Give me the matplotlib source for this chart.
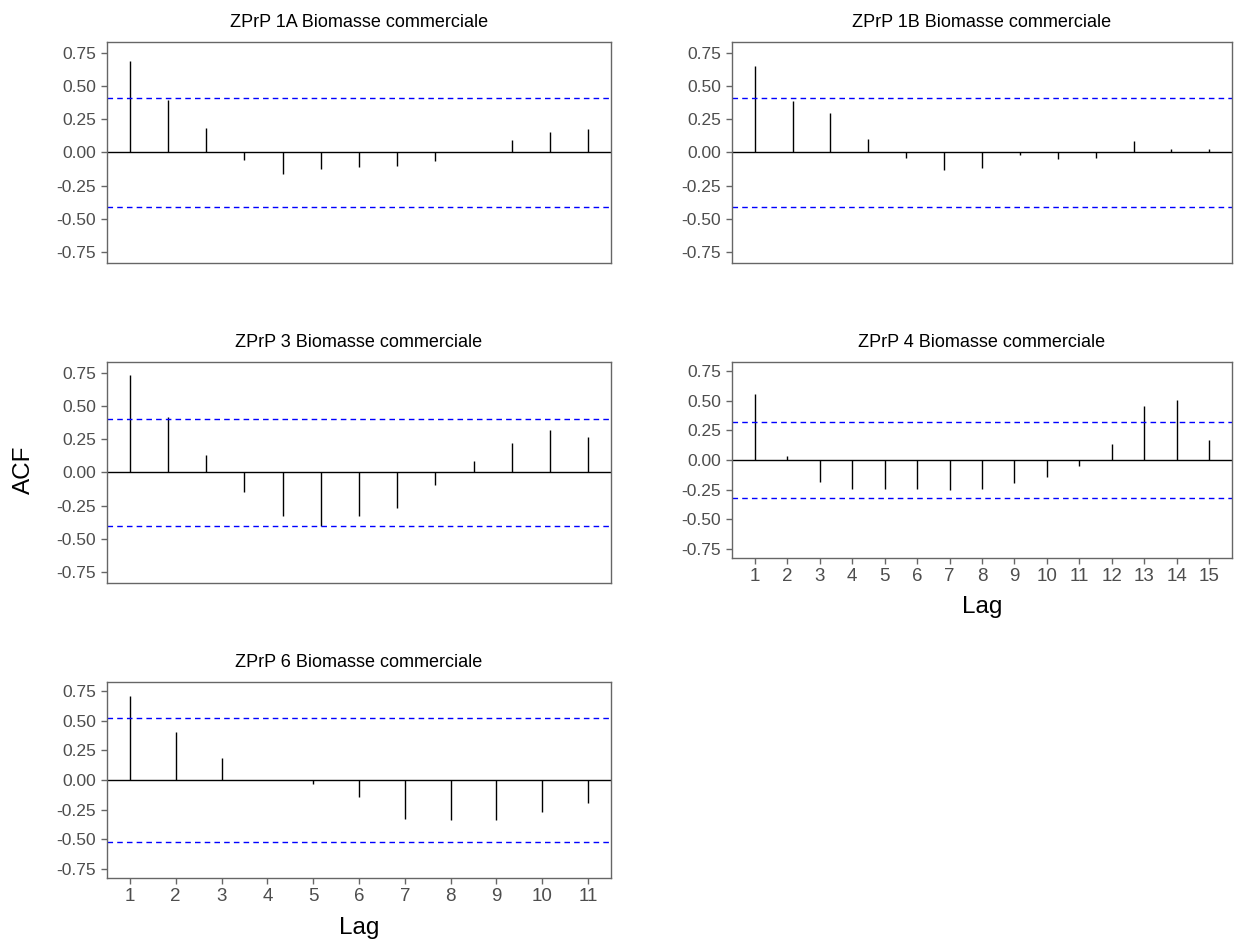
import matplotlib
matplotlib.use("Agg")
import matplotlib.pyplot as plt

plt.rcParams['font.family'] = ['Liberation Sans', 'DejaVu Sans']

# ACF values per zone
titles = ["ZPrP 1A Biomasse commerciale", "ZPrP 1B Biomasse commerciale",
          "ZPrP 3 Biomasse commerciale", "ZPrP 4 Biomasse commerciale",
          "ZPrP 6 Biomasse commerciale"]

acf_1a = [0.69, 0.395, 0.185, -0.06, -0.165, -0.125, -0.11, -0.10, -0.065, 0.003, 0.095, 0.155, 0.178]
acf_1b = [0.65, 0.39, 0.295, 0.105, -0.038, -0.135, -0.115, -0.018, -0.052, -0.04, 0.09, 0.028, 0.025]
acf_3 = [0.733, 0.418, 0.135, -0.145, -0.323, -0.405, -0.33, -0.27, -0.095, 0.088, 0.218, 0.318, 0.268]
acf_4 = [0.557, 0.034, -0.187, -0.249, -0.243, -0.246, -0.255, -0.246, -0.198, -0.14, -0.054, 0.136, 0.461, 0.507, 0.167]
acf_6 = [0.708, 0.408, 0.19, 0.002, -0.037, -0.14, -0.328, -0.342, -0.34, -0.27, -0.198]

ci = [0.41, 0.41, 0.40, 0.325, 0.527]
series = [acf_1a, acf_1b, acf_3, acf_4, acf_6]
show_x = [False, False, False, True, True]

yticks = [-0.75, -0.5, -0.25, 0, 0.25, 0.5, 0.75]

W, H = 1238, 947
fig = plt.figure(figsize=(W / 100, H / 100), dpi=100)

# panel boxes in pixels: left, right, top, bottom
boxes = [(107, 611, 42, 263), (732, 1232, 42, 263),
         (107, 611, 362, 583), (732, 1232, 362, 558),
         (107, 611, 682, 878)]

frame_col = "#666666"
text_col = "#4D4D4D"

for i in range(5):
    l, r, t, b = boxes[i]
    ax = fig.add_axes([l / W, 1 - b / H, (r - l) / W, (b - t) / H])
    vals = series[i]
    n = len(vals)
    lags = list(range(1, n + 1))
    ax.vlines(lags, 0, vals, color="black", linewidth=1.0)
    ax.axhline(0, color="black", linewidth=1.0)
    ax.axhline(ci[i], color="blue", linestyle=(0, (4, 3)), linewidth=1.0)
    ax.axhline(-ci[i], color="blue", linestyle=(0, (4, 3)), linewidth=1.0)
    pad_x = 0.05 * (n - 1)
    ax.set_xlim(1 - pad_x, n + pad_x)
    ax.set_ylim(-0.83, 0.83)
    ax.set_yticks(yticks)
    ax.set_yticklabels([f"{v:.2f}" for v in yticks])
    if show_x[i]:
        ax.set_xticks(lags)
        ax.set_xticklabels([str(v) for v in lags])
    else:
        ax.set_xticks([])
    ax.tick_params(axis="both", length=4, width=1, color=frame_col,
                   labelcolor=text_col, pad=4)
    ax.tick_params(axis="y", labelsize=12.5)
    ax.tick_params(axis="x", labelsize=13.5, pad=3)
    for s in ax.spines.values():
        s.set_color(frame_col)
        s.set_linewidth(1.0)
    ax.set_title(titles[i], fontsize=13, color="black", pad=11)

fig.text(24 / W, 1 - 470 / H, "ACF", rotation=90, fontsize=17.5,
         ha="center", va="center")
fig.text(982 / W, 1 - 607 / H, "Lag", fontsize=17.5, ha="center", va="center")
fig.text(359 / W, 1 - 928 / H, "Lag", fontsize=17.5, ha="center", va="center")

fig.savefig("out.png", dpi=100)
